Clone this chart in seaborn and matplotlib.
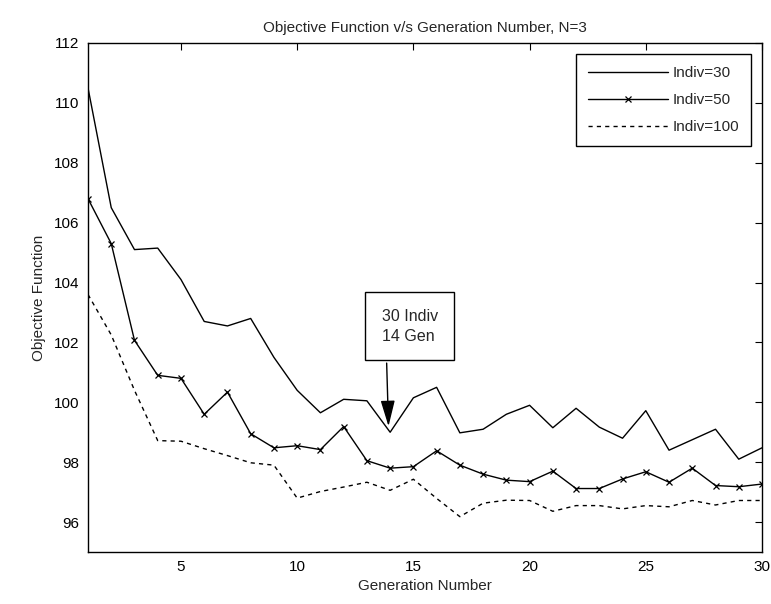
import matplotlib
matplotlib.use("Agg")
import matplotlib.pyplot as plt
import seaborn as sns
import pandas as pd
import numpy as np

generations = list(range(1, 31))
indiv30 = [110.5, 106.5, 105.1, 105.15, 104.1, 102.7, 102.55, 102.8, 101.5, 100.4,
           99.65, 100.1, 100.05, 99.0, 100.15, 100.5, 98.98, 99.1, 99.6, 99.9,
           99.15, 99.8, 99.17, 98.8, 99.72, 98.4, 98.75, 99.1, 98.1, 98.48]
indiv50 = [106.8, 105.3, 102.07, 100.9, 100.8, 99.6, 100.34, 98.95, 98.48, 98.55,
           98.42, 99.19, 98.05, 97.8, 97.85, 98.38, 97.9, 97.6, 97.4, 97.35,
           97.7, 97.12, 97.12, 97.44, 97.68, 97.33, 97.8, 97.22, 97.18, 97.27]
indiv100 = [103.6, 102.25, 100.4, 98.72, 98.7, 98.45, 98.22, 97.98, 97.9, 96.8,
            97.02, 97.17, 97.33, 97.06, 97.43, 96.79, 96.18, 96.63, 96.73, 96.72,
            96.36, 96.55, 96.55, 96.44, 96.55, 96.51, 96.72, 96.57, 96.72, 96.72]
series_names = ["Indiv=30", "Indiv=50", "Indiv=100"]
x_ticks = [5, 10, 15, 20, 25, 30]
y_ticks = [96, 98, 100, 102, 104, 106, 108, 110, 112]
title = "Objective Function v/s Generation Number, N=3"
xlabel = "Generation Number"
ylabel = "Objective Function"
annot_text = "30 Indiv\n14 Gen"
annot_point = (13.93, 99.2)

sns.set_theme(style="white")
plt.rcParams['font.family'] = ['Liberation Sans', 'DejaVu Sans']

fig = plt.figure(figsize=(7.71, 6.04), dpi=100)
ax = fig.add_axes([88/771, 1 - 552/604, (762 - 88)/771, (552 - 43)/604])

df = pd.DataFrame({"gen": generations, series_names[0]: indiv30,
                   series_names[1]: indiv50, series_names[2]: indiv100})

sns.lineplot(data=df, x="gen", y=series_names[0], ax=ax, color="black",
             linewidth=1.0, label=series_names[0])
sns.lineplot(data=df, x="gen", y=series_names[1], ax=ax, color="black",
             linewidth=1.0, marker="x", markersize=5, markeredgewidth=0.9,
             markeredgecolor="black", label=series_names[1])
sns.lineplot(data=df, x="gen", y=series_names[2], ax=ax, color="black",
             linewidth=1.0, linestyle=(0, (3, 3)), label=series_names[2])

ax.set_xlim(1, 30)
ax.set_ylim(95, 112)
ax.set_xticks(x_ticks)
ax.set_yticks(y_ticks)
ax.tick_params(direction="in", top=True, right=True, length=5, width=0.8,
               labelsize=11, colors="black", pad=6)
for s in ax.spines.values():
    s.set_color("black")
    s.set_linewidth(1.0)

ax.set_title(title, fontsize=11, pad=8)
ax.set_xlabel(xlabel, fontsize=11, labelpad=3)
ax.set_ylabel(ylabel, fontsize=11, labelpad=6)

leg = ax.legend(loc="upper right", fontsize=11, frameon=True, fancybox=False,
                edgecolor="black", framealpha=1, handlelength=5.2,
                borderaxespad=0.7, borderpad=0.8, labelspacing=0.85,
                handletextpad=0.3, numpoints=1)
leg.get_frame().set_linewidth(1.0)

ax.text(14.84, 102.54, annot_text, ha="center", va="center", fontsize=11.5,
        linespacing=1.4, multialignment="left",
        bbox=dict(boxstyle="square,pad=1.05", fc="white", ec="black", lw=1.0))
ax.annotate("", xy=annot_point, xytext=(13.85, 101.31),
            arrowprops=dict(arrowstyle="-|>,head_length=0.8,head_width=0.22",
                            color="black", lw=1.0,
                            mutation_scale=20, shrinkA=0, shrinkB=0))

fig.savefig("out.png", dpi=100)
